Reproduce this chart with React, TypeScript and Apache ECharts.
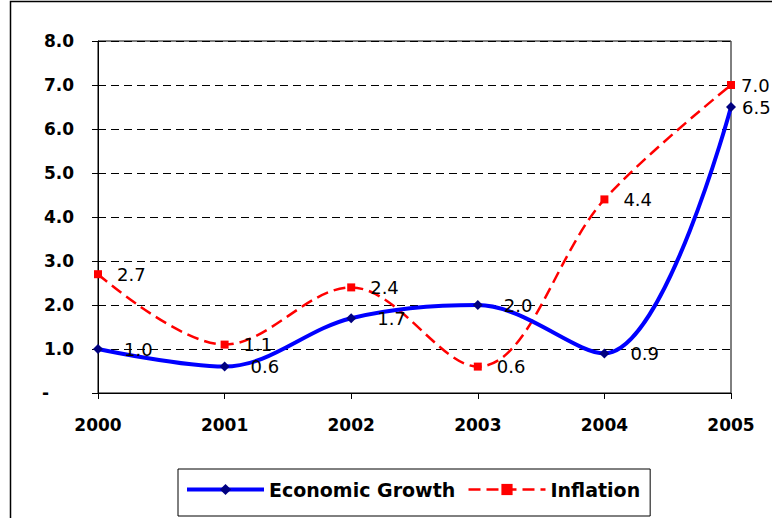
import React, { useEffect, useRef } from "react";
import * as echarts from "echarts";

const years = ["2000", "2001", "2002", "2003", "2004", "2005"];
const growth = [1.0, 0.6, 1.7, 2.0, 0.9, 6.5];
const inflation = [2.7, 1.1, 2.4, 0.6, 4.4, 7.0];
const seriesNames = ["Economic Growth", "Inflation"];

const FONT = "'DejaVu Sans', sans-serif";

export default function App() {
  const ref = useRef<HTMLDivElement>(null);
  useEffect(() => {
    document.body.style.margin = "0";
    if (!ref.current) return;
    const chart = echarts.init(ref.current, null, { renderer: "svg" });
    const last = years.length - 1;
    const labelBase = {
      show: true,
      position: "right",
      color: "#000",
      fontSize: 18,
      fontFamily: FONT,
      formatter: (p: any) => Number(p.value).toFixed(1),
    };
    chart.setOption({
      animation: false,
      backgroundColor: "#fff",
      graphic: [
        {
          type: "rect",
          shape: { x: 10.5, y: 1.5, width: 900, height: 700 },
          style: { fill: "none", stroke: "#000", lineWidth: 1.5 },
          silent: true,
          z: 100,
        },
      ],
      grid: {
        left: 98,
        top: 41,
        right: 41,
        bottom: 125,
        show: true,
        borderColor: "#000",
        borderWidth: 1,
        backgroundColor: "transparent",
      },
      legend: {
        left: 178,
        top: 469,
        orient: "horizontal",
        padding: [11, 10, 17, 7],
        borderColor: "#000",
        borderWidth: 1,
        itemWidth: 77,
        itemHeight: 14,
        itemGap: 12,
        textStyle: {
          fontFamily: FONT,
          fontWeight: "bold",
          fontSize: 19,
          color: "#000",
          lineHeight: 14,
        },
        data: [
          { name: seriesNames[0], lineStyle: { width: 4 } },
          { name: seriesNames[1], lineStyle: { width: 2.5, type: [12, 6] } },
        ],
      },
      xAxis: {
        type: "category",
        data: years,
        boundaryGap: false,
        axisLine: { lineStyle: { color: "#000", width: 1 } },
        axisTick: { show: true, length: 6, inside: false, lineStyle: { color: "#000" } },
        axisLabel: {
          color: "#000",
          fontFamily: FONT,
          fontWeight: "bold",
          fontSize: 17,
          margin: 23,
        },
        splitLine: { show: false },
      },
      yAxis: {
        type: "value",
        min: 0,
        max: 8,
        interval: 1,
        axisLine: { show: true, lineStyle: { color: "#000", width: 1 } },
        axisTick: { show: true, length: 6, lineStyle: { color: "#000" } },
        axisLabel: {
          color: "#000",
          fontFamily: FONT,
          fontWeight: "bold",
          fontSize: 17,
          margin: 24,
          formatter: (v: number) => (v === 0 ? "{d|-}" : v.toFixed(1)),
          rich: {
            d: {
              color: "#000",
              fontFamily: FONT,
              fontWeight: "bold",
              fontSize: 17,
              padding: [0, 25, 0, 0],
            },
          },
        },
        splitLine: {
          show: true,
          lineStyle: { color: "#000", type: [8, 5], width: 1 },
        },
      },
      series: [
        {
          name: seriesNames[0],
          type: "line",
          smooth: 0.35,
          data: growth.map((v, i) =>
            i === last ? { value: v, label: { distance: 6 } } : v
          ),
          symbol: "diamond",
          symbolSize: 10,
          lineStyle: { color: "#0000FF", width: 4 },
          itemStyle: { color: "#000080" },
          label: { ...labelBase, distance: 21 },
          z: 3,
        },
        {
          name: seriesNames[1],
          type: "line",
          smooth: 0.35,
          data: inflation.map((v, i) =>
            i === last ? { value: v, label: { distance: 6 } } : v
          ),
          symbol: "rect",
          symbolSize: 8,
          lineStyle: { color: "#FF0000", width: 2.5, type: [12, 6] },
          itemStyle: { color: "#FF0000" },
          label: { ...labelBase, distance: 15 },
          z: 2,
        },
      ],
    });
    return () => chart.dispose();
  }, []);
  return <div ref={ref} style={{ width: 772, height: 518 }} />;
}
